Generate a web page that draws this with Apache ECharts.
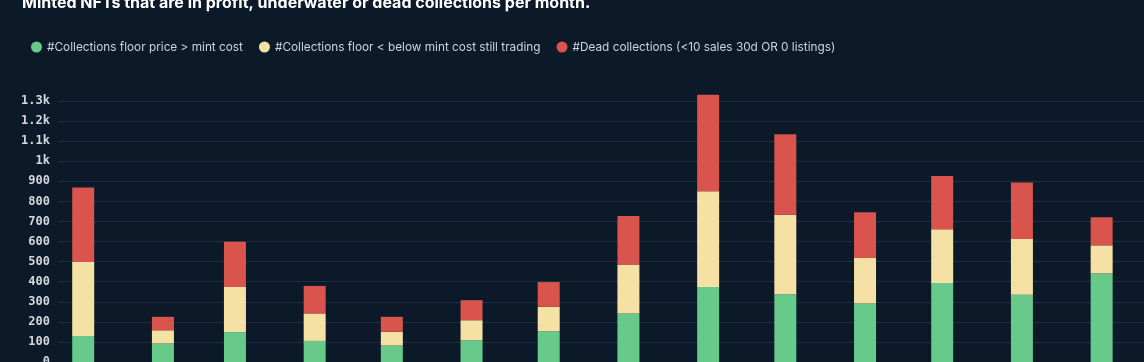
<!DOCTYPE html>
<html>
<head>
<meta charset="utf-8">
<script src="https://cdn.jsdelivr.net/npm/echarts@6/dist/echarts.min.js"></script>
<style>
  html, body { margin: 0; padding: 0; background: #0b1929; }
  #chart { width: 1144px; height: 362px; }
</style>
</head>
<body>
<div id="chart"></div>
<script>
const months = ['2022-01-01','2022-02-01','2022-03-01','2022-04-01','2022-05-01','2022-06-01','2022-07-01',
                '2022-08-01','2022-09-01','2022-10-01','2022-11-01','2022-12-01','2023-01-01','2023-02-01'];
const inProfit   = [130, 92, 149, 105, 82, 108, 153, 242, 374, 338, 292, 393, 335, 441];
const underwater = [368, 66, 224, 137, 69, 100, 122, 244, 477, 396, 226, 268, 278, 140];
const dead       = [371, 67, 226, 137, 74, 100, 123, 241, 480, 401, 228, 266, 281, 140];
const seriesNames = ['#Collections floor price > mint cost',
                     '#Collections floor < below mint cost still trading',
                     '#Dead collections (<10 sales 30d OR 0 listings)'];
const yTicks = [0,100,200,300,400,500,600,700,800,900,1000,1100,1200,1300];
const titleText = 'Minted NFTs that are in profit, underwater or dead collections per month.';

const colors = ['#67c98a', '#f6e1a4', '#d8544c'];
const DAY = 86400000;
const t0 = new Date(2022, 0, 1).getTime();
const pxPerDay = 2.625;
const xMin = t0 - (72.5 - 58) / pxPerDay * DAY;
const xMax = t0 + (1144 - 72.5) / pxPerDay * DAY;

function pairs(vals) { return months.map((m, i) => [m, vals[i]]); }
const values = [inProfit, underwater, dead];

const chart = echarts.init(document.getElementById('chart'));
chart.setOption({
  backgroundColor: '#0b1929',
  animation: false,
  title: {
    text: titleText,
    left: 17, top: -10,
    textStyle: { color: '#ffffff', fontSize: 16, fontWeight: 'bold', fontFamily: 'Inter' }
  },
  legend: {
    left: 26, top: 36,
    icon: 'circle', itemWidth: 11, itemHeight: 11, itemGap: 16,
    textStyle: { color: '#cfd4da', fontSize: 11.8, fontFamily: 'Inter' },
    data: seriesNames
  },
  grid: { left: 58, right: 0, top: 101, bottom: 0, containLabel: false, outerBoundsMode: 'none' },
  xAxis: {
    type: 'time', min: xMin, max: xMax,
    axisLine: { show: false }, axisTick: { show: false },
    axisLabel: { show: false }, splitLine: { show: false }
  },
  yAxis: {
    type: 'value', min: yTicks[0], max: yTicks[yTicks.length - 1], interval: 100,
    axisLine: { show: false }, axisTick: { show: false },
    axisLabel: {
      color: '#d3d7dc', fontSize: 12, fontWeight: 'bold', fontFamily: 'DejaVu Sans Mono', margin: 8,
      formatter: v => v >= 1000 ? (v / 1000) + 'k' : String(v)
    },
    splitLine: { lineStyle: { color: '#1f2f40', width: 1 } }
  },
  series: seriesNames.map((n, i) => ({
    name: n, type: 'bar', stack: 'total', barWidth: 22, clip: false,
    itemStyle: { color: colors[i] },
    data: pairs(values[i])
  }))
});
</script>
</body>
</html>
